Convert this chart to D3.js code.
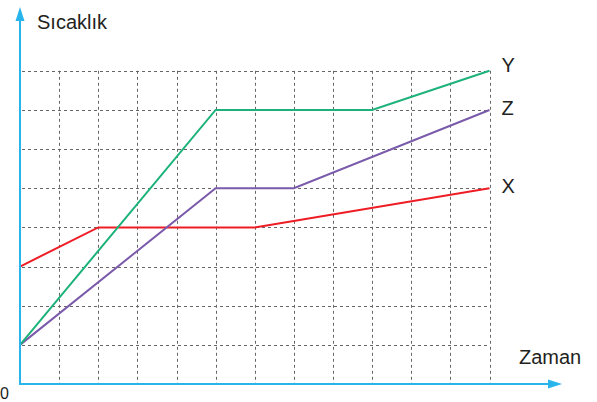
<!DOCTYPE html>
<html><head><meta charset="utf-8">
<script src="https://cdn.jsdelivr.net/npm/d3@7"></script>
<style>html,body{margin:0;padding:0;background:#fff}svg{display:block}</style>
</head><body>
<script>
const xTicks = [0,1,2,3,4,5,6,7,8,9,10,11,12];
const yTicks = [1,2,3,4,5,6,7,8];
const seriesNames = ["X","Y","Z"];
const seriesX = [[0,3],[2,4],[6,4],[12,5]];
const seriesY = [[0,1],[5,7],[9,7],[12,8]];
const seriesZ = [[0,1],[5,5],[7,5],[12,7]];
const colors = {X:"#ee1c25", Y:"#1db27a", Z:"#7a5aab"};
const labelDy = {X:5, Y:1.5, Z:5};

const W=597,H=402;
const svg=d3.select("body").append("svg").attr("width",W).attr("height",H);
const x=d3.scaleLinear().domain([0,12]).range([20,489.5]);
const y=d3.scaleLinear().domain([0,8]).range([384,70.8]);

const grid=svg.append("g").attr("stroke","#666").attr("stroke-width",1).attr("stroke-dasharray","3,3");
xTicks.slice(1).forEach(t=>grid.append("line").attr("x1",Math.round(x(t))+0.5).attr("x2",Math.round(x(t))+0.5).attr("y1",y(8)).attr("y2",y(0)));
yTicks.forEach(t=>grid.append("line").attr("x1",x(0)+2).attr("x2",x(12)).attr("y1",Math.round(y(t))+0.5).attr("y2",Math.round(y(t))+0.5));

const line=d3.line().x(d=>x(d[0])).y(d=>y(d[1]));
const data={X:seriesX,Y:seriesY,Z:seriesZ};
["X","Z","Y"].forEach(k=>{
  svg.append("path").attr("d",line(data[k])).attr("fill","none").attr("stroke",colors[k]).attr("stroke-width",2);
});

// axes
const ac="#29b5ec";
svg.append("line").attr("x1",x(0)).attr("x2",x(0)).attr("y1",y(0)+1).attr("y2",18).attr("stroke",ac).attr("stroke-width",2);
svg.append("path").attr("d",`M${x(0)},7 L${x(0)-4.5},21 L${x(0)+4.5},21 Z`).attr("fill",ac);
svg.append("line").attr("x1",x(0)-1).attr("x2",552).attr("y1",y(0)).attr("y2",y(0)).attr("stroke",ac).attr("stroke-width",2);
svg.append("path").attr("d",`M562,${y(0)} L548,${y(0)-4.5} L548,${y(0)+4.5} Z`).attr("fill",ac);

const font="'Liberation Sans', Arial, Helvetica, sans-serif";
svg.append("text").attr("x",37).attr("y",29).text("Sıcaklık").attr("font-family",font).attr("font-size",20).attr("fill","#231f20");
svg.append("text").attr("x",519).attr("y",364).text("Zaman").attr("font-family",font).attr("font-size",20).attr("fill","#231f20");
svg.append("text").attr("x",0).attr("y",399).text("0").attr("font-family",font).attr("font-size",16).attr("fill","#231f20");

seriesNames.forEach(k=>{
  const last=data[k][data[k].length-1];
  svg.append("text").attr("x",x(last[0])+12).attr("y",y(last[1])+labelDy[k]).text(k)
    .attr("font-family",font).attr("font-size",20).attr("fill","#231f20");
});
</script>
</body></html>
